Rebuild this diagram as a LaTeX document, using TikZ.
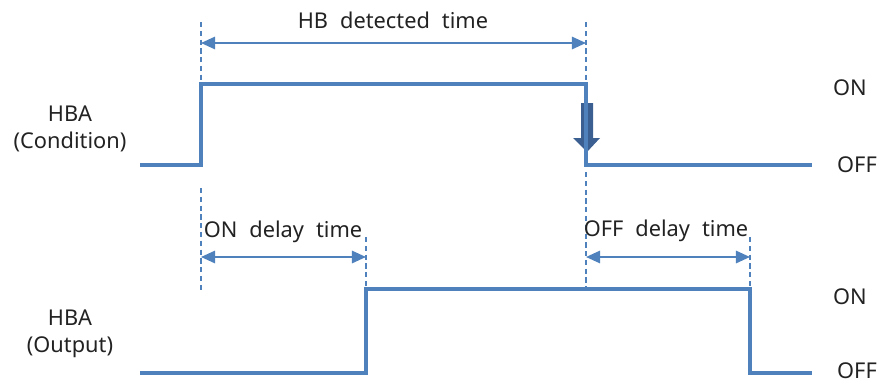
\documentclass[tikz,border=0pt]{standalone}
\usepackage{fontspec}
\setmainfont{Noto Sans}
\usepackage{tikz}
\usetikzlibrary{arrows.meta,positioning,calc}
\definecolor{sigblue}{HTML}{4F81BD}
\definecolor{markblue}{HTML}{3B5F90}
\definecolor{inkgray}{HTML}{222222}
\newcommand\wavefont{\fontsize{18.6}{23.5}\selectfont\spaceskip=0.55em\relax}

\begin{document}
\begin{tikzpicture}[x=0.03cm,y=-0.03cm,
  signal/.style={draw=sigblue,line width=2.6pt},
  guide/.style={draw=sigblue,line width=1pt,dash pattern=on 4.5pt off 3pt},
  span/.style={draw=sigblue,line width=1.8pt,
               {Triangle[length=12pt,width=10.5pt]}-{Triangle[length=12pt,width=10.5pt]}},
  lab/.style={font=\wavefont,text=inkgray,inner sep=0pt},
  side/.style={font=\wavefont,text=inkgray,align=center,inner sep=0pt}
]
  \useasboundingbox (0,0) rectangle (882,388);

  % condition signal
  \coordinate (c0) at (140,165);
  \coordinate (c1) at (201,165);
  \coordinate (c2) at (201,84);
  \coordinate (c3) at (586,84);
  \coordinate (c4) at (586,165);
  \coordinate (c5) at (812,165);

  % output signal
  \coordinate (o0) at (140,373);
  \coordinate (o1) at (366,373);
  \coordinate (o2) at (366,289);
  \coordinate (o3) at (750,289);
  \coordinate (o4) at (750,373);
  \coordinate (o5) at (812,373);

  % falling edge marker
  \fill[markblue] (581,103) -- (593,103) -- (593,138) -- (600,138)
                  -- (587,152) -- (573,138) -- (581,138) -- cycle;

  \draw[signal] (c0) -- (c1) -- (c2) -- (c3) -- (c4) -- (c5);
  \draw[signal] (o0) -- (o1) -- (o2) -- (o3) -- (o4) -- (o5);

  % guides
  \coordinate (g1) at (201,22);
  \coordinate (g2) at (586,22);
  \coordinate (g3) at (201,188);
  \coordinate (g4) at (201,293);
  \coordinate (g5) at (586,172);
  \coordinate (g6) at (366,237);
  \coordinate (g7) at (750,237);
  \draw[guide] (g1) -- (c2);
  \draw[guide] (g2) -- (c3);
  \draw[guide] (g3) -- (g4);
  \draw[guide] (g5) -- (o3 -| g5);
  \draw[guide] (g6) -- (o2);
  \draw[guide] (g7) -- (o3);

  % spans
  \coordinate (s1) at (201,43);
  \coordinate (s2) at (586,43);
  \coordinate (s3) at (201,257);
  \coordinate (s4) at (366,257);
  \coordinate (s5) at (586,257);
  \coordinate (s6) at (750,257);
  \draw[span] (s1) -- (s2);
  \draw[span] (s3) -- (s4);
  \draw[span] (s5) -- (s6);

  \node[lab] (hbTime) at (393,20) {HB detected time};
  \node[lab] (onDelay) at (283,232) {ON delay time};
  \node[lab] (offDelay) at (666,231) {OFF delay time};

  \node[side] (condLab) at (70,129) {HBA\\(Condition)};
  \node[side] (outLab) at (70,334) {HBA\\(Output)};

  \node[lab] (condOn) at (850,88) {ON};
  \node[lab] (condOff) at (857,165) {OFF};
  \node[lab] (outOn) at (850,297) {ON};
  \node[lab] (outOff) at (857,371) {OFF};
\end{tikzpicture}
\end{document}
